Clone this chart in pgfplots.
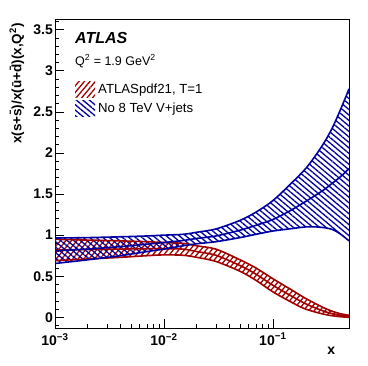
\documentclass[border=0pt]{standalone}
\usepackage{fontspec}
\setmainfont{Liberation Sans}
\usepackage{pgfplots}
\usepackage{pgfplotstable}
\pgfplotsset{compat=1.18}
\usepgfplotslibrary{fillbetween}
\usetikzlibrary{patterns.meta}

\definecolor{ared}{RGB}{160,0,0}
\definecolor{ablue}{RGB}{0,0,160}

% x, lower edge, central, upper edge
\pgfplotstableread{
x      lo     mid    hi
0.001  0.69   0.82   0.95
0.002  0.71   0.825  0.94
0.004  0.73   0.83   0.93
0.007  0.75   0.835  0.92
0.01   0.76   0.835  0.91
0.015  0.755  0.83   0.90
0.02   0.73   0.80   0.87
0.03   0.68   0.755  0.83
0.05   0.56   0.63   0.70
0.07   0.45   0.525  0.60
0.1    0.31   0.39   0.47
0.15   0.18   0.255  0.33
0.2    0.10   0.165  0.23
0.3    0.035  0.07   0.11
0.4    0.01   0.03   0.05
0.5    0.0    0.012  0.025
}\atlas

\pgfplotstableread{
x      lo     mid    hi
0.001  0.655  0.81   0.965
0.002  0.70   0.83   0.97
0.004  0.75   0.86   0.98
0.007  0.80   0.89   0.99
0.01   0.83   0.91   1.00
0.015  0.87   0.935  1.01
0.02   0.895  0.96   1.035
0.03   0.92   0.99   1.075
0.05   0.97   1.06   1.18
0.07   1.01   1.12   1.28
0.1    1.05   1.19   1.42
0.15   1.08   1.31   1.64
0.2    1.10   1.41   1.81
0.25   1.10   1.49   1.98
0.3    1.09   1.56   2.14
0.35   1.07   1.63   2.30
0.4    1.03   1.69   2.47
0.45   0.98   1.75   2.63
0.5    0.93   1.81   2.78
}\novjets

\tikzset{
  redhatch/.style={pattern={Lines[angle=50,distance=4.2pt,line width=1.3pt]},pattern color=ared},
  bluehatch/.style={pattern={Lines[angle=-40,distance=4.2pt,line width=1.3pt]},pattern color=ablue},
}

\begin{document}
\begin{tikzpicture}
\begin{axis}[
    name=ax,
    scale only axis,
    width=294pt, height=309pt,
    xmode=log,
    xmin=0.001, xmax=0.5,
    ymin=-0.13, ymax=3.63,
    xtick={0.001,0.01,0.1},
    xticklabels={10\textsuperscript{−3},10\textsuperscript{−2},10\textsuperscript{−1}},
    ytick={0,0.5,...,3.5},
    minor ytick={-0.1,0.1,0.2,...,3.6},
    tick pos=left,
    tick align=inside,
    major tick length=9pt,
    minor tick length=4.5pt,
    axis line style={line width=0.8pt},
    every tick/.style={black,line width=0.6pt},
    /pgf/number format/assume math mode=true,
    tick label style={font=\bfseries\fontsize{14}{14}\selectfont},
    yticklabel style={inner xsep=2pt},
    xticklabel style={inner ysep=5pt},
    xlabel={\textbf{x}},
    xlabel style={font=\fontsize{14}{14}\selectfont, at={(rel axis cs:0.94,-0.075)}, anchor=center},
    ylabel={\textbf{x(s+\=s)/x(\=u+\=d)(x,Q\textsuperscript{2})}},
    ylabel style={font=\fontsize{13.5}{13.5}\selectfont, at={(rel axis cs:-0.13,0.997)}, anchor=east, rotate=0},
    legend style={at={(rel axis cs:0.068,0.80)}, anchor=north west, draw=none, fill=none,
      font=\fontsize{13.2}{13.2}\selectfont, inner sep=0pt, row sep=3pt,
      nodes={inner xsep=3pt, inner ysep=1pt}},
    legend cell align=left,
    legend image code/.code={\path[#1, draw=none] (0pt,-8pt) rectangle (20pt,8pt);},
  ]
  % ATLASpdf21 band
  \addplot[name path=rhi, draw=none, smooth, forget plot] table[x=x,y=hi]{\atlas};
  \addplot[name path=rlo, draw=none, smooth, forget plot] table[x=x,y=lo]{\atlas};
  \addplot[redhatch, forget plot] fill between[of=rhi and rlo];
  % no 8 TeV V+jets band
  \addplot[name path=bhi, draw=none, smooth, forget plot] table[x=x,y=hi]{\novjets};
  \addplot[name path=blo, draw=none, smooth, forget plot] table[x=x,y=lo]{\novjets};
  \addplot[bluehatch, forget plot] fill between[of=bhi and blo];

  \addplot[ared, line width=1.6pt, smooth, forget plot] table[x=x,y=hi]{\atlas};
  \addplot[ared, line width=1.6pt, smooth, forget plot] table[x=x,y=lo]{\atlas};
  \addplot[ared, line width=1.6pt, smooth, forget plot] table[x=x,y=mid]{\atlas};
  \addplot[ablue, line width=1.6pt, smooth, forget plot] table[x=x,y=hi]{\novjets};
  \addplot[ablue, line width=1.6pt, smooth, forget plot] table[x=x,y=lo]{\novjets};
  \addplot[ablue, line width=1.6pt, smooth, forget plot] table[x=x,y=mid]{\novjets};

  \addlegendimage{redhatch}
  \addlegendentry{ATLASpdf21, T=1}
  \addlegendimage{bluehatch}
  \addlegendentry{No 8 TeV V+jets}

  \node[anchor=base west, inner sep=0pt, font=\bfseries\itshape\fontsize{16}{16}\selectfont]
    at (rel axis cs:0.068,0.922) {ATLAS};
  \node[anchor=base west, inner sep=0pt, font=\fontsize{12.5}{12.5}\selectfont]
    at (rel axis cs:0.068,0.851) {Q\textsuperscript{2} = 1.9 GeV\textsuperscript{2}};
\end{axis}
\pgfresetboundingbox
\path[use as bounding box] ([xshift=-55pt,yshift=-37pt]ax.south west) rectangle ([xshift=19pt,yshift=19pt]ax.north east);
\end{tikzpicture}
\end{document}
